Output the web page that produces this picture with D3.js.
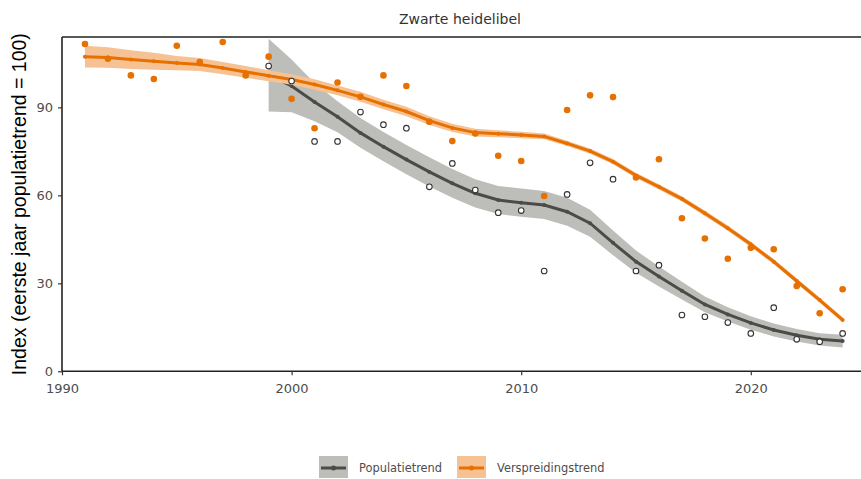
<!DOCTYPE html>
<html>
<head>
<meta charset="utf-8">
<script src="https://cdn.jsdelivr.net/npm/d3@7"></script>
<style>
  body { margin: 0; background: #fff; }
  svg { display: block; }
</style>
</head>
<body>
<svg id="chart" width="861" height="479"></svg>
<script>
// Zwarte heidelibel - populatietrend en verspreidingstrend
const title = "Zwarte heidelibel";
const yTitle = "Index (eerste jaar populatietrend = 100)";
const xTicks = [1990, 2000, 2010, 2020];
const yTicks = [0, 30, 60, 90];

const spreadYears = [1991, 1992, 1993, 1994, 1995, 1996, 1997, 1998, 1999, 2000,
    2001, 2002, 2003, 2004, 2005, 2006, 2007, 2008, 2009, 2010,
    2011, 2012, 2013, 2014, 2015, 2016, 2017, 2018, 2019, 2020,
    2021, 2022, 2023, 2024];
const spreadIndex = [111.6, 106.6, 100.9, 99.7, 111.0, 105.5, 112.3, 100.9, 107.3, 92.9,
    82.9, 98.5, 93.6, 100.9, 97.3, 85.1, 78.5, 81.1, 73.5, 71.7,
    59.8, 89.1, 94.1, 93.5, 66.1, 72.3, 52.2, 45.3, 38.4, 42.1,
    41.6, 29.1, 19.8, 28.0];
const spreadTrend = [107.3, 107.0, 106.3, 105.7, 105.1, 104.6, 103.4, 102.1, 100.8, 99.5,
    97.8, 95.8, 93.6, 91.0, 88.6, 85.5, 83.0, 81.4, 81.0, 80.6,
    80.1, 77.7, 75.1, 71.5, 66.8, 62.9, 58.8, 53.9, 48.8, 43.3,
    37.4, 30.8, 24.3, 17.5];
const spreadMargin = [3.7, 3.5, 3.2, 2.9, 2.4, 2.2, 2.1, 2.0, 1.9, 1.8,
    1.8, 1.7, 1.7, 1.6, 1.6, 1.5, 1.4, 1.3, 1.2, 1.1,
    1.0, 0.9, 0.9, 0.9, 0.9, 0.9, 0.9, 0.9, 0.9, 0.9,
    0.9, 0.9, 0.9, 0.9];

const popYears = [1999, 2000, 2001, 2002, 2003, 2004, 2005, 2006, 2007, 2008,
    2009, 2010, 2011, 2012, 2013, 2014, 2015, 2016, 2017, 2018,
    2019, 2020, 2021, 2022, 2023, 2024];
const popIndex = [104.1, 99.0, 78.4, 78.4, 88.4, 84.1, 82.9, 62.9, 70.9, 61.8,
    54.1, 54.8, 34.2, 60.3, 71.1, 65.5, 34.2, 36.2, 19.2, 18.6,
    16.6, 12.9, 21.7, 10.9, 10.1, 12.9];
const popTrend = [101.0, 97.3, 91.8, 86.8, 81.3, 76.6, 72.2, 68.0, 64.1, 60.7,
    58.4, 57.5, 56.7, 54.4, 50.5, 43.8, 37.4, 32.3, 27.5, 22.8,
    19.4, 16.5, 14.1, 12.3, 10.9, 10.3];
const popMargin = [12.4, 9.0, 6.5, 5.3, 5.1, 5.0, 5.0, 5.0, 4.9, 4.8,
    4.8, 4.8, 4.8, 4.8, 4.6, 4.2, 3.8, 3.4, 3.0, 2.7,
    2.4, 2.3, 2.2, 2.1, 2.1, 2.2];

const legendLabels = ["Populatietrend", "Verspreidingstrend"];

const colors = {
    popLine: "#4d4b48", popBand: "#bdbdb9",
    spreadLine: "#e67000", spreadBand: "#f6c294"
};

const svg = d3.select("#chart");
const pLeft = 62, pRight = 861, pTop = 37, pBottom = 371.3;

const x = d3.scaleLinear().domain([1990, 2024.8]).range([pLeft, pRight]);
const y = d3.scaleLinear().domain([0, 114]).range([pBottom, pTop]);

svg.append("defs").append("clipPath").attr("id", "panel")
    .append("rect").attr("x", pLeft).attr("y", pTop)
    .attr("width", pRight - pLeft).attr("height", pBottom - pTop);

// title
svg.append("text")
    .attr("x", 460).attr("y", 24)
    .attr("text-anchor", "middle")
    .style("font", "14px 'DejaVu Sans'")
    .attr("fill", "#333")
    .text(title);

const plot = svg.append("g").attr("clip-path", "url(#panel)");

function drawSeries(years, trend, margin, lineColor, bandColor) {
    const rows = years.map((yr, i) => ({ yr, v: trend[i], m: margin[i] }));
    plot.append("path")
        .datum(rows)
        .attr("fill", bandColor)
        .attr("d", d3.area()
            .x(d => x(d.yr))
            .y0(d => y(d.v - d.m))
            .y1(d => y(d.v + d.m)));
    plot.append("path")
        .datum(rows)
        .attr("fill", "none")
        .attr("stroke", lineColor)
        .attr("stroke-width", 3)
        .attr("d", d3.line().x(d => x(d.yr)).y(d => y(d.v)));
    plot.selectAll(null)
        .data(rows)
        .enter()
        .append("circle")
        .attr("cx", d => x(d.yr))
        .attr("cy", d => y(d.v))
        .attr("r", 2)
        .attr("fill", lineColor);
}

drawSeries(popYears, popTrend, popMargin, colors.popLine, colors.popBand);
drawSeries(spreadYears, spreadTrend, spreadMargin, colors.spreadLine, colors.spreadBand);

// observed indices
plot.selectAll(null)
    .data(popYears.map((yr, i) => ({ yr, v: popIndex[i] })))
    .enter()
    .append("circle")
    .attr("cx", d => x(d.yr))
    .attr("cy", d => y(d.v))
    .attr("r", 2.8)
    .attr("fill", "#fff")
    .attr("stroke", "#333")
    .attr("stroke-width", 1.1);

plot.selectAll(null)
    .data(spreadYears.map((yr, i) => ({ yr, v: spreadIndex[i] })))
    .enter()
    .append("circle")
    .attr("cx", d => x(d.yr))
    .attr("cy", d => y(d.v))
    .attr("r", 3.3)
    .attr("fill", colors.spreadLine);

// axes
const xAxis = svg.append("g")
    .attr("transform", `translate(0,${pBottom})`)
    .call(d3.axisBottom(x).tickValues(xTicks).tickFormat(d3.format("d")).tickSize(4).tickPadding(8));
const yAxis = svg.append("g")
    .attr("transform", `translate(${pLeft},0)`)
    .call(d3.axisLeft(y).tickValues(yTicks).tickSize(4).tickPadding(5));

[xAxis, yAxis].forEach(ax => {
    ax.select(".domain").attr("stroke", "#222").attr("stroke-width", 1.6);
    ax.selectAll(".tick line").attr("stroke", "#333").attr("stroke-width", 1.2);
    ax.selectAll(".tick text")
        .attr("fill", "#4d4d4d")
        .style("font", "13px 'DejaVu Sans'");
});
xAxis.select(".domain").attr("d", `M${pLeft},0H${pRight}`);
yAxis.select(".domain").attr("d", `M0,${pBottom}V${pTop}`);

// top border of the panel
svg.append("line")
    .attr("x1", pLeft).attr("x2", pRight)
    .attr("y1", pTop).attr("y2", pTop)
    .attr("stroke", "#222").attr("stroke-width", 1.6);

svg.append("text")
    .attr("transform", `translate(26,${(pTop + pBottom) / 2}) rotate(-90)`)
    .attr("text-anchor", "middle")
    .style("font", "19.5px 'Liberation Sans'")
    .attr("fill", "#000")
    .text(yTitle);

// legend
const keys = [
    { label: legendLabels[0], line: colors.popLine, band: colors.popBand, kx: 319 },
    { label: legendLabels[1], line: colors.spreadLine, band: colors.spreadBand, kx: 457 }
];
const legend = svg.append("g");
keys.forEach(k => {
    legend.append("rect")
        .attr("x", k.kx).attr("y", 456)
        .attr("width", 29).attr("height", 22)
        .attr("fill", k.band);
    legend.append("line")
        .attr("x1", k.kx + 2).attr("x2", k.kx + 27)
        .attr("y1", 468).attr("y2", 468)
        .attr("stroke", k.line).attr("stroke-width", 3);
    legend.append("circle")
        .attr("cx", k.kx + 14.5).attr("cy", 468).attr("r", 2.5)
        .attr("fill", k.line);
    legend.append("text")
        .attr("x", k.kx + 40).attr("y", 472)
        .style("font", "11.4px 'DejaVu Sans'")
        .attr("fill", "#4d4d4d")
        .text(k.label);
});
</script>
</body>
</html>
